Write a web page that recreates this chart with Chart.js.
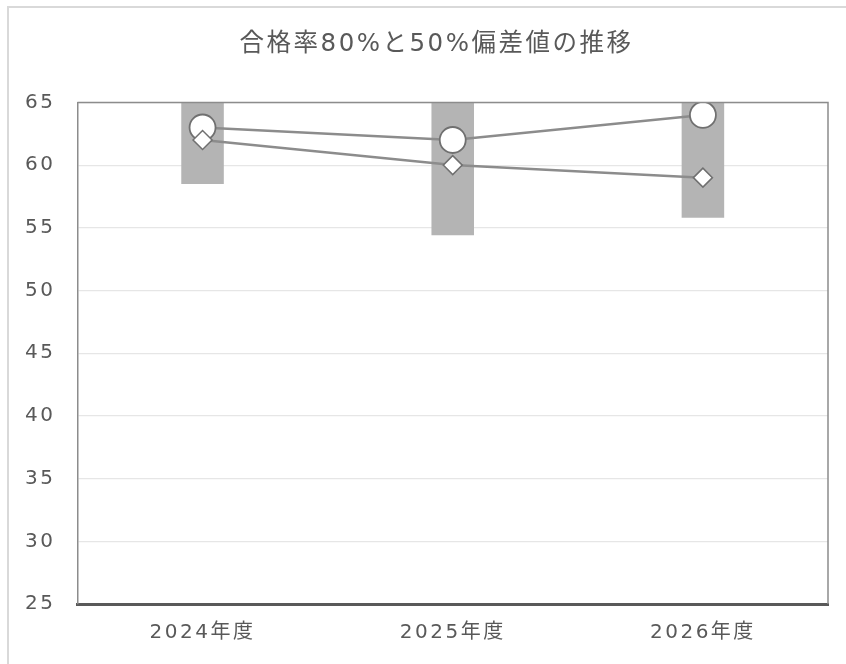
<!DOCTYPE html>
<html lang="ja">
<head>
<meta charset="utf-8">
<script src="https://cdn.jsdelivr.net/npm/chart.js@4/dist/chart.umd.min.js"></script>
<style>
  html, body { margin: 0; padding: 0; background: #fff; }
  #wrap { width: 846px; height: 664px; position: relative; }
</style>
</head>
<body>
<div id="wrap"><canvas id="myChart"></canvas></div>
<script>
// Data
const years = ["2024年度", "2025年度", "2026年度"];
const rangeLow = [58.5, 54.4, 55.8];   // bottom of the grey band
const rangeHigh = [65, 65, 65];        // band runs up past the top of the axis
const pass80 = [63, 62, 64];           // circles
const pass50 = [62, 60, 59];           // diamonds
const yTicksMin = 25;
const yTicksMax = 65;
const yStep = 5;

// wide latin digits, CJK falls back to Noto
const fontFamily = '"DejaVu Sans", "Noto Sans CJK JP", sans-serif';

// the reference text is spaced out a little; title sits right of centre
const textPlugin = {
  id: "textTweaks",
  beforeUpdate(chart) { chart.ctx.letterSpacing = "2.5px"; },
  afterLayout(chart) {
    chart.titleBlock.left += 21;
    chart.titleBlock.right += 21;
  },
  beforeDraw(chart) { chart.ctx.letterSpacing = "2.5px"; }
};

// frame lines: outer chart border and the top/right of the plot area
const framePlugin = {
  id: "frame",
  beforeDraw(chart) {
    const c = chart.ctx;
    c.save();
    c.fillStyle = "#fff";
    c.fillRect(0, 0, chart.width, chart.height);
    c.strokeStyle = "#d9d9d9";
    c.lineWidth = 2;
    c.beginPath();
    c.moveTo(8, chart.height + 5);
    c.lineTo(8, 7);
    c.lineTo(chart.width + 5, 7);
    c.stroke();
    c.restore();
  },
  afterDatasetsDraw(chart) {
    const a = chart.chartArea;
    const c = chart.ctx;
    c.save();
    c.strokeStyle = "#8c8c8c";
    c.lineWidth = 1.5;
    c.beginPath();
    c.moveTo(a.left, a.top);
    c.lineTo(a.right, a.top);
    c.lineTo(a.right, a.bottom);
    c.stroke();
    c.restore();
  }
};

const ctx = document.getElementById("myChart").getContext("2d");

new Chart(ctx, {
  data: {
    labels: years,
    datasets: [
      {
        type: "line",
        label: "合格率80%",
        data: pass80,
        borderColor: "#8c8c8c",
        borderWidth: 2.5,
        pointStyle: "circle",
        pointRadius: 13,
        pointBackgroundColor: "#fff",
        pointBorderColor: "#707070",
        pointBorderWidth: 1.8,
        order: 1
      },
      {
        type: "line",
        label: "合格率50%",
        data: pass50,
        borderColor: "#8c8c8c",
        borderWidth: 2.5,
        pointStyle: "rectRot",
        pointRadius: 9.5,
        pointBackgroundColor: "#fff",
        pointBorderColor: "#707070",
        pointBorderWidth: 1.5,
        order: 0
      },
      {
        type: "bar",
        label: "範囲",
        data: rangeLow.map((lo, i) => [lo, rangeHigh[i]]),
        backgroundColor: "#b4b4b4",
        borderWidth: 0,
        categoryPercentage: 1,
        barPercentage: 0.17,
        order: 2
      }
    ]
  },
  options: {
    responsive: true,
    maintainAspectRatio: false,
    animation: false,
    layout: { padding: { left: 3, right: 18, top: 0, bottom: 10 } },
    plugins: {
      legend: { display: false },
      tooltip: { enabled: false },
      title: {
        display: true,
        text: "合格率80%と50%偏差値の推移",
        color: "#595959",
        font: { family: fontFamily, size: 24.5, weight: "normal" },
        padding: { top: 30, bottom: 43 }
      }
    },
    scales: {
      x: {
        grid: { display: false },
        border: { color: "#595959", width: 3 },
        ticks: {
          color: "#595959",
          padding: 9,
          font: { family: fontFamily, size: 20 }
        }
      },
      y: {
        min: yTicksMin,
        max: yTicksMax,
        grid: { color: "#e6e6e6", lineWidth: 1.2, drawTicks: false },
        border: { color: "#8c8c8c", width: 1.5 },
        ticks: {
          stepSize: yStep,
          color: "#595959",
          padding: 22,
          font: { family: fontFamily, size: 20 }
        }
      }
    }
  },
  plugins: [textPlugin, framePlugin]
});
</script>
</body>
</html>
